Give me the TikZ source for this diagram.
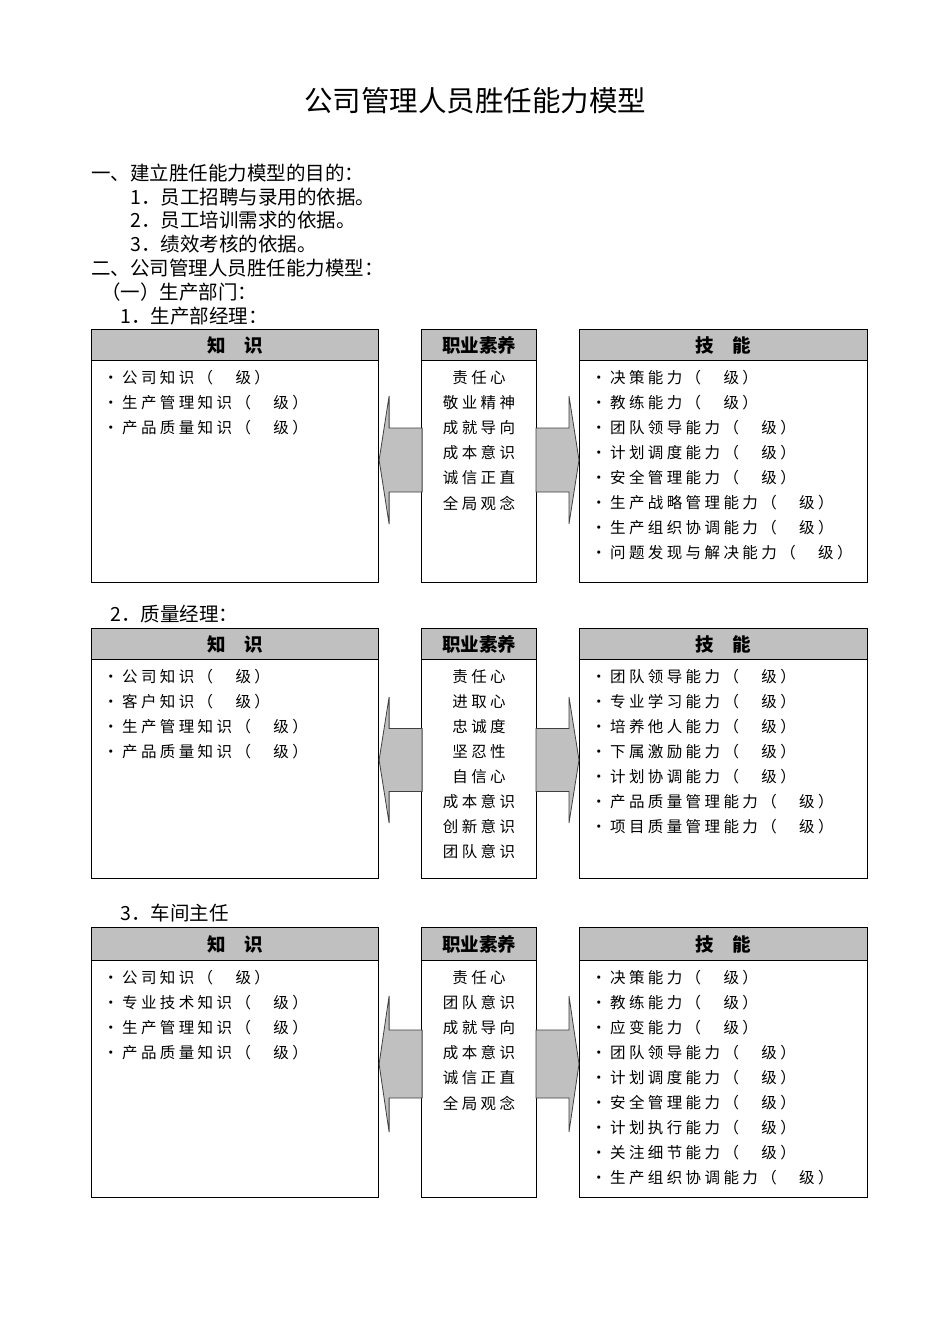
\documentclass[tikz,border=0pt]{standalone}
\usepackage{fontspec}
\setmainfont{Noto Sans CJK SC}
\newfontfamily\itemfont[LetterSpace=22]{Noto Sans CJK SC}
\usetikzlibrary{calc}
\definecolor{hd}{HTML}{C0C0C0}
\definecolor{ar}{HTML}{C0C0C0}

\tikzset{
  box/.style={draw, line width=1.1pt, anchor=north west, inner sep=0pt},
  head/.style={draw, fill=hd, line width=1.1pt, anchor=north west, inner sep=0pt, minimum height=31pt, font=\fontsize{18.5}{18.5}\selectfont\bfseries},
  item/.style={anchor=west, inner sep=0pt, font=\fontsize{15.5}{15.5}\itemfont},
  mitem/.style={anchor=center, inner sep=0pt, font=\fontsize{15.5}{15.5}\itemfont},
  txt/.style={anchor=west, inner sep=0pt, font=\fontsize{19.5}{19.5}\selectfont},
  arw/.style={fill=ar, draw=black!75, line width=0.8pt, line join=miter}
}

% 两侧箭头: 左框, 中框, 右框, 中心y, 箭头半高
\newcommand\sidearrows[5]{%
  \coordinate (lt) at (#1.east |- 0,#4);
  \coordinate (rt) at (#3.west |- 0,#4);
  \draw[arw] (lt) -- ++(10,-#5) -- ++(0,#5/2) -- ++(33,0) -- ++(0,#5) -- ++(-33,0) -- ++(0,#5/2) -- cycle;
  \draw[arw] (rt) -- ++(-10,-#5) -- ++(0,#5/2) -- ++(-33,0) -- ++(0,#5) -- ++(33,0) -- ++(0,#5/2) -- cycle;
}

\begin{document}
\begin{tikzpicture}[x=1pt, y=-1pt]
  \useasboundingbox (0,0) rectangle (950,1344);

  \node[font=\fontsize{28.5}{28.5}\selectfont] (title) at (475,101) {公司管理人员胜任能力模型};

  \node[txt] (t1) at (91,173) {一、建立胜任能力模型的目的：};
  \node[txt] (t2) at (130,197) {1．员工招聘与录用的依据。};
  \node[txt] (t3) at (130,220) {2．员工培训需求的依据。};
  \node[txt] (t4) at (130,244) {3．绩效考核的依据。};
  \node[txt] (t5) at (91,268) {二、公司管理人员胜任能力模型：};
  \node[txt] (t6) at (101,292) {（一）生产部门：};
  \node[txt] (t7) at (120,316) {1．生产部经理：};

  %% 1. 生产部经理
  \node[box, minimum width=287pt, minimum height=253pt] (k1) at (91,329) {};
  \node[box, minimum width=115pt, minimum height=253pt] (m1) at (421,329) {};
  \node[box, minimum width=288pt, minimum height=253pt] (s1) at (579,329) {};
  \node[head, minimum width=287pt] (k1h) at (k1.north west) {知　识};
  \node[head, minimum width=115pt] (m1h) at (m1.north west) {职业素养};
  \node[head, minimum width=288pt] (s1h) at (s1.north west) {技　能};
  \foreach \t [count=\i] in {·公司知识（　级）, ·生产管理知识（　级）, ·产品质量知识（　级）}
    \node[item] (k1-\i) at ($(k1.north west)+(12,24+25*\i)$) {\t};
  \foreach \t [count=\i] in {责任心, 敬业精神, 成就导向, 成本意识, 诚信正直, 全局观念}
    \node[mitem] (m1-\i) at ($(m1.north)+(0,24+25*\i)$) {\t};
  \foreach \t [count=\i] in {·决策能力（　级）, ·教练能力（　级）, ·团队领导能力（　级）, ·计划调度能力（　级）, ·安全管理能力（　级）, ·生产战略管理能力（　级）, ·生产组织协调能力（　级）, ·问题发现与解决能力（　级）}
    \node[item] (s1-\i) at ($(s1.north west)+(12,24+25*\i)$) {\t};
  \sidearrows{k1}{m1}{s1}{460}{64}

  %% 2. 质量经理
  \node[txt] (t8) at (110,614) {2．质量经理：};
  \node[box, minimum width=287pt, minimum height=250pt] (k2) at (91,628) {};
  \node[box, minimum width=115pt, minimum height=250pt] (m2) at (421,628) {};
  \node[box, minimum width=288pt, minimum height=250pt] (s2) at (579,628) {};
  \node[head, minimum width=287pt] (k2h) at (k2.north west) {知　识};
  \node[head, minimum width=115pt] (m2h) at (m2.north west) {职业素养};
  \node[head, minimum width=288pt] (s2h) at (s2.north west) {技　能};
  \foreach \t [count=\i] in {·公司知识（　级）, ·客户知识（　级）, ·生产管理知识（　级）, ·产品质量知识（　级）}
    \node[item] (k2-\i) at ($(k2.north west)+(12,24+25*\i)$) {\t};
  \foreach \t [count=\i] in {责任心, 进取心, 忠诚度, 坚忍性, 自信心, 成本意识, 创新意识, 团队意识}
    \node[mitem] (m2-\i) at ($(m2.north)+(0,24+25*\i)$) {\t};
  \foreach \t [count=\i] in {·团队领导能力（　级）, ·专业学习能力（　级）, ·培养他人能力（　级）, ·下属激励能力（　级）, ·计划协调能力（　级）, ·产品质量管理能力（　级）, ·项目质量管理能力（　级）}
    \node[item] (s2-\i) at ($(s2.north west)+(12,24+25*\i)$) {\t};
  \sidearrows{k2}{m2}{s2}{760}{63}

  %% 3. 车间主任
  \node[txt] (t9) at (120,913) {3．车间主任};
  \node[box, minimum width=287pt, minimum height=270pt] (k3) at (91,927) {};
  \node[box, minimum width=115pt, minimum height=270pt] (m3) at (421,927) {};
  \node[box, minimum width=288pt, minimum height=270pt] (s3) at (579,927) {};
  \node[head, minimum width=287pt, minimum height=33pt] (k3h) at (k3.north west) {知　识};
  \node[head, minimum width=115pt, minimum height=33pt] (m3h) at (m3.north west) {职业素养};
  \node[head, minimum width=288pt, minimum height=33pt] (s3h) at (s3.north west) {技　能};
  \foreach \t [count=\i] in {·公司知识（　级）, ·专业技术知识（　级）, ·生产管理知识（　级）, ·产品质量知识（　级）}
    \node[item] (k3-\i) at ($(k3.north west)+(12,26+25*\i)$) {\t};
  \foreach \t [count=\i] in {责任心, 团队意识, 成就导向, 成本意识, 诚信正直, 全局观念}
    \node[mitem] (m3-\i) at ($(m3.north)+(0,26+25*\i)$) {\t};
  \foreach \t [count=\i] in {·决策能力（　级）, ·教练能力（　级）, ·应变能力（　级）, ·团队领导能力（　级）, ·计划调度能力（　级）, ·安全管理能力（　级）, ·计划执行能力（　级）, ·关注细节能力（　级）, ·生产组织协调能力（　级）}
    \node[item] (s3-\i) at ($(s3.north west)+(12,26+25*\i)$) {\t};
  \sidearrows{k3}{m3}{s3}{1064}{68}
\end{tikzpicture}
\end{document}
